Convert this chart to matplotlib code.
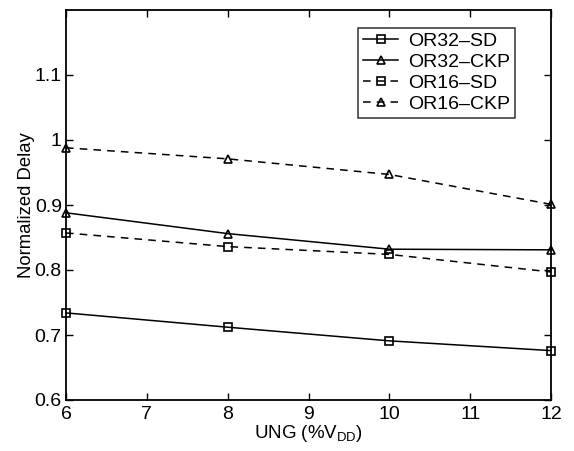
import matplotlib
matplotlib.use("Agg")
import matplotlib.pyplot as plt

plt.rcParams['font.family'] = ['Liberation Sans', 'DejaVu Sans']

x = [6, 8, 10, 12]
or32_sd = [0.734, 0.712, 0.691, 0.676]
or32_ckp = [0.888, 0.856, 0.832, 0.831]
or16_sd = [0.857, 0.836, 0.824, 0.797]
or16_ckp = [0.988, 0.971, 0.947, 0.901]
labels = ['OR32\u2013SD', 'OR32\u2013CKP', 'OR16\u2013SD', 'OR16\u2013CKP']
yticks = [0.6, 0.7, 0.8, 0.9, 1.0, 1.1]
yticklabels = ['0.6', '0.7', '0.8', '0.9', '1', '1.1']
xticks = [6, 7, 8, 9, 10, 11, 12]

fig = plt.figure(figsize=(5.74, 4.51), dpi=100)
ax = fig.add_axes([66/574, 1 - 400/451, (551-66)/574, (400-10)/451])

kw = dict(color='black', linewidth=1.1, markersize=5.5, markerfacecolor='none',
          markeredgewidth=1.2, clip_on=False, zorder=3)
ax.plot(x, or32_sd, '-', marker='s', label=labels[0], **kw)
ax.plot(x, or32_ckp, '-', marker='^', label=labels[1], **kw)
ax.plot(x, or16_sd, '--', marker='s', label=labels[2], dashes=(5, 4), **kw)
ax.plot(x, or16_ckp, '--', marker='^', label=labels[3], dashes=(5, 4), **kw)

ax.set_xlim(6, 12)
ax.set_ylim(0.6, 1.2)
ax.set_xticks(xticks)
ax.set_yticks(yticks)
ax.set_yticklabels(yticklabels)
ax.tick_params(direction='in', top=True, right=True, labelsize=14, length=5, width=1)
ax.tick_params(axis='x', pad=4)
ax.tick_params(axis='y', pad=3)
for s in ax.spines.values():
    s.set_linewidth(1.3)

ax.set_xlabel('UNG (%V$_{\\mathregular{DD}}$)', fontsize=13.5, labelpad=0.5)
ax.set_ylabel('Normalized Delay', fontsize=13.3, labelpad=0)

leg = ax.legend(loc='upper right', bbox_to_anchor=(0.925, 0.955), fontsize=14, frameon=True,
                fancybox=False, edgecolor='black', handlelength=1.8, handletextpad=0.5,
                borderpad=0.25, labelspacing=0.17, borderaxespad=0)
leg.get_frame().set_linewidth(1.1)

fig.savefig('out.png', dpi=100)
